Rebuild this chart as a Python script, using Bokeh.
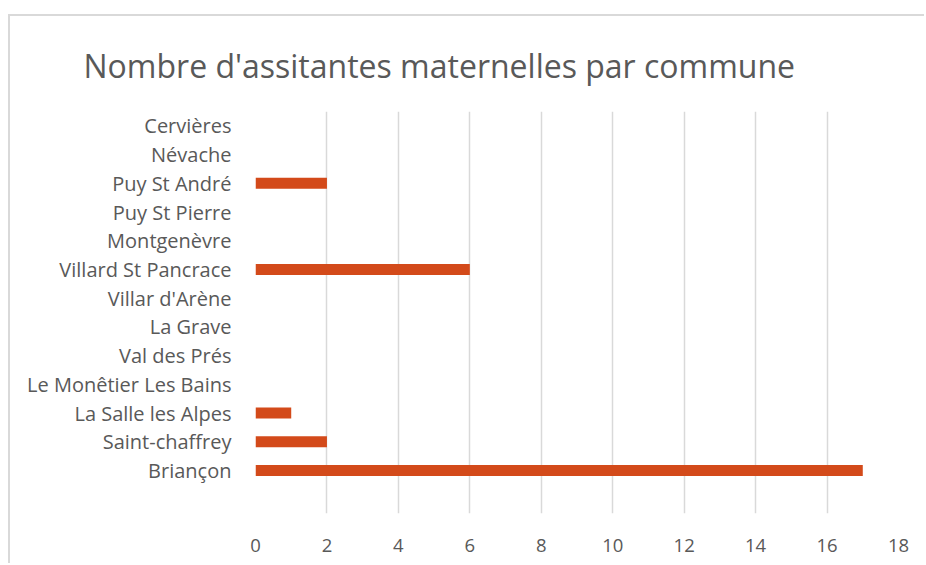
from bokeh.plotting import figure
from bokeh.models import FactorRange, Range1d, FixedTicker
from bokeh.embed import file_html
from bokeh.resources import INLINE

communes = [" ", "Briançon", "Saint-chaffrey", "La Salle les Alpes", "Le Monêtier Les Bains",
            "Val des Prés", "La Grave", "Villar d'Arène", "Villard St Pancrace", "Montgenèvre",
            "Puy St Pierre", "Puy St André", "Névache", "Cervières"]
valeurs = [0, 17, 2, 1, 0, 0, 0, 0, 6, 0, 0, 2, 0, 0]
x_ticks = [0, 2, 4, 6, 8, 10, 12, 14, 16, 18]

FONT = "Open Sans"
TXT = "#595959"

p = figure(width=916, height=549, output_backend="svg", toolbar_location=None,
           y_range=FactorRange(factors=communes, range_padding=0),
           x_range=Range1d(0, 18),
           min_border_left=245, min_border_right=28, min_border_top=95, min_border_bottom=52,
           title="Nombre d'assitantes maternelles par commune")
p.styles = {"margin-top": "14px", "margin-left": "8px",
            "border-top": "2px solid #d9d9d9", "border-left": "2px solid #d9d9d9"}

p.hbar(y=communes, right=valeurs, left=0, height=0.38, color="#D34A1A", line_color=None)

p.title.text_font = FONT
p.title.text_font_size = "32px"
p.title.text_font_style = "normal"
p.title.text_color = TXT
p.title.align = "left"
p.title.offset = -172
p.title.standoff = 50

p.outline_line_color = None
p.ygrid.grid_line_color = None
p.xgrid.grid_line_color = "#d9d9d9"
p.xgrid.grid_line_width = 1.5
p.xaxis.ticker = FixedTicker(ticks=x_ticks)

for ax in (p.xaxis[0], p.yaxis[0]):
    ax.axis_line_color = None
    ax.major_tick_line_color = None
    ax.minor_tick_line_color = None
    ax.major_label_text_font = FONT
    ax.major_label_text_color = TXT
p.yaxis.major_label_text_font_size = "20px"
p.xaxis.major_label_text_font_size = "18.5px"
p.yaxis.major_label_standoff = 18
p.xaxis.major_label_standoff = 19

open("out.html", "w").write(file_html(p, INLINE))
